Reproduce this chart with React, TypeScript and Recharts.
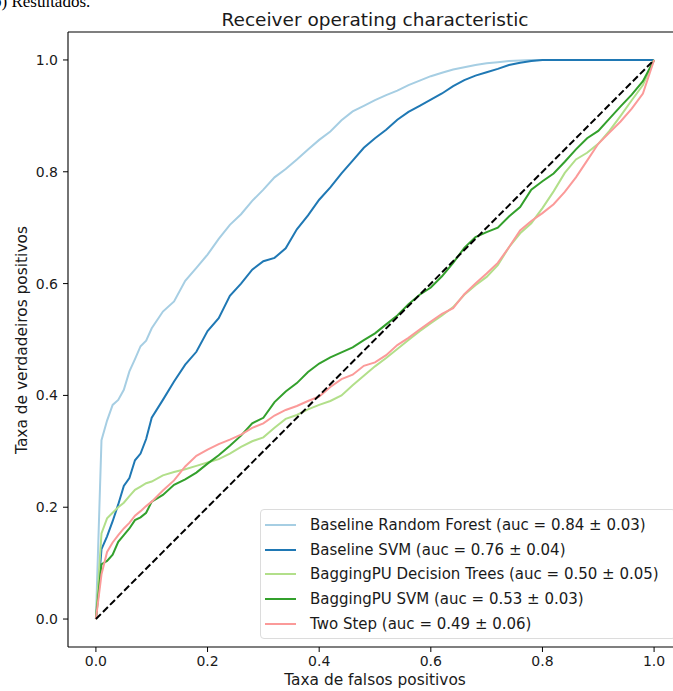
import { LineChart, Line, XAxis, YAxis, ReferenceLine, Legend } from 'recharts';

// false positive rate grid shared by all curves
const fpr = [
  0, 0.01, 0.02, 0.03, 0.04, 0.05, 0.06, 0.07, 0.08, 0.09, 0.1,
  0.12, 0.14, 0.16, 0.18, 0.2, 0.22, 0.24, 0.26, 0.28, 0.3,
  0.32, 0.34, 0.36, 0.38, 0.4, 0.42, 0.44, 0.46, 0.48, 0.5,
  0.52, 0.54, 0.56, 0.58, 0.6, 0.62, 0.64, 0.66, 0.68, 0.7,
  0.72, 0.74, 0.76, 0.78, 0.8, 0.82, 0.84, 0.86, 0.88, 0.9,
  0.92, 0.94, 0.96, 0.98, 1.0,
];

const rfTpr = [
  0, 0.32, 0.355, 0.383, 0.392, 0.41, 0.443, 0.465, 0.488, 0.498, 0.52,
  0.55, 0.568, 0.605, 0.628, 0.652, 0.68, 0.705, 0.724, 0.748, 0.768,
  0.79, 0.805, 0.822, 0.84, 0.857, 0.872, 0.892, 0.908, 0.918, 0.928,
  0.937, 0.945, 0.955, 0.963, 0.971, 0.977, 0.983, 0.987, 0.991, 0.994,
  0.996, 0.998, 0.999, 1, 1, 1, 1, 1, 1, 1,
  1, 1, 1, 1, 1,
];

const svmTpr = [
  0, 0.125, 0.148, 0.175, 0.205, 0.238, 0.252, 0.284, 0.296, 0.322, 0.36,
  0.392, 0.425, 0.455, 0.478, 0.515, 0.538, 0.578, 0.6, 0.625, 0.64,
  0.646, 0.663, 0.697, 0.722, 0.75, 0.772, 0.797, 0.82, 0.843, 0.86,
  0.875, 0.893, 0.907, 0.918, 0.929, 0.94, 0.953, 0.964, 0.972, 0.978,
  0.984, 0.991, 0.995, 0.998, 1, 1, 1, 1, 1, 1,
  1, 1, 1, 1, 1,
];

const bagTreesTpr = [
  0, 0.153, 0.18, 0.19, 0.2, 0.208, 0.22, 0.231, 0.237, 0.243, 0.246,
  0.257, 0.263, 0.268, 0.274, 0.28, 0.286, 0.296, 0.308, 0.318, 0.325,
  0.342, 0.358, 0.365, 0.375, 0.383, 0.39, 0.4, 0.418, 0.435, 0.452,
  0.467, 0.483, 0.499, 0.515, 0.529, 0.543, 0.558, 0.58, 0.597, 0.612,
  0.633, 0.665, 0.69, 0.708, 0.735, 0.765, 0.798, 0.822, 0.834, 0.85,
  0.873, 0.9, 0.928, 0.955, 1,
];

const bagSvmTpr = [
  0, 0.098, 0.104, 0.115, 0.138, 0.15, 0.162, 0.177, 0.182, 0.19, 0.21,
  0.222, 0.24, 0.25, 0.262, 0.278, 0.293, 0.31, 0.328, 0.35, 0.36,
  0.388, 0.407, 0.422, 0.442, 0.457, 0.468, 0.477, 0.486, 0.499, 0.511,
  0.527, 0.543, 0.563, 0.58, 0.593, 0.613, 0.637, 0.664, 0.683, 0.692,
  0.7, 0.72, 0.737, 0.768, 0.783, 0.797, 0.818, 0.84, 0.86, 0.873,
  0.895, 0.917, 0.938, 0.962, 1,
];

const twoStepTpr = [
  0, 0.08, 0.12, 0.137, 0.15, 0.162, 0.172, 0.185, 0.193, 0.202, 0.21,
  0.23, 0.248, 0.273, 0.292, 0.303, 0.313, 0.321, 0.33, 0.342, 0.35,
  0.364, 0.374, 0.381, 0.39, 0.398, 0.415, 0.429, 0.437, 0.453, 0.459,
  0.472, 0.49, 0.503, 0.518, 0.532, 0.546, 0.556, 0.581, 0.6, 0.618,
  0.637, 0.665, 0.695, 0.712, 0.726, 0.742, 0.764, 0.79, 0.82, 0.85,
  0.87, 0.89, 0.913, 0.94, 1,
];

// chance line
const chanceFpr = [0, 1];
const chanceTpr = [0, 1];

const axisTicks = [0, 0.2, 0.4, 0.6, 0.8, 1.0];

const series = [
  { key: 'rf', name: 'Baseline Random Forest (auc = 0.84 \u00b1 0.03)', color: '#a6cee3', tpr: rfTpr },
  { key: 'svm', name: 'Baseline SVM (auc = 0.76 \u00b1 0.04)', color: '#1f78b4', tpr: svmTpr },
  { key: 'bagTrees', name: 'BaggingPU Decision Trees (auc = 0.50 \u00b1 0.05)', color: '#b2df8a', tpr: bagTreesTpr },
  { key: 'bagSvm', name: 'BaggingPU SVM (auc = 0.53 \u00b1 0.03)', color: '#33a02c', tpr: bagSvmTpr },
  { key: 'twoStep', name: 'Two Step (auc = 0.49 \u00b1 0.06)', color: '#fb9a99', tpr: twoStepTpr },
];

const rows = fpr.map((x, i) => {
  const row: Record<string, number> = { x };
  series.forEach((s) => {
    row[s.key] = s.tpr[i];
  });
  return row;
});

const chanceRows = chanceFpr.map((x, i) => ({ x, chance: chanceTpr[i] }));

const FONT = '"DejaVu Sans", sans-serif';
const tickStyle = { fontSize: 14, fill: '#1a1a1a', fontFamily: FONT };

function LegendBox() {
  return (
    <div
      style={{
        boxSizing: 'border-box',
        width: 416,
        height: 130,
        border: '1px solid #dcdcdc',
        borderRadius: 4,
        background: 'rgba(255,255,255,0.8)',
        paddingTop: 2.5,
        fontFamily: FONT,
        fontSize: 15,
        color: '#1a1a1a',
      }}
    >
      {series.map((s) => (
        <div
          key={s.key}
          style={{ height: 24.75, display: 'flex', alignItems: 'center', whiteSpace: 'nowrap' }}
        >
          <div style={{ width: 31, height: 2, marginLeft: 4, marginRight: 14, background: s.color }} />
          <span>{s.name}</span>
        </div>
      ))}
    </div>
  );
}

export default function App() {
  return (
    <div
      style={{
        position: 'absolute',
        left: 0,
        top: 0,
        width: 673,
        height: 691,
        overflow: 'hidden',
        background: '#fff',
      }}
    >
      <LineChart
        width={700}
        height={691}
        data={rows}
        margin={{ top: 32, right: 18, bottom: 0, left: 0 }}
      >
        <XAxis
          dataKey="x"
          type="number"
          domain={[-0.05, 1.05]}
          ticks={axisTicks}
          tickFormatter={(v: number) => v.toFixed(1)}
          allowDataOverflow
          height={44}
          tickSize={5}
          tickMargin={4}
          tick={tickStyle}
          stroke="#000"
          axisLine={{ stroke: '#000', strokeWidth: 1.1 }}
          tickLine={{ stroke: '#000', strokeWidth: 1 }}
        />
        <YAxis
          type="number"
          domain={[-0.05, 1.05]}
          ticks={axisTicks}
          tickFormatter={(v: number) => v.toFixed(1)}
          allowDataOverflow
          width={68}
          tickSize={5}
          tickMargin={5}
          tick={tickStyle}
          stroke="#000"
          axisLine={{ stroke: '#000', strokeWidth: 1.1 }}
          tickLine={{ stroke: '#000', strokeWidth: 1 }}
        />
        {/* top and right frame */}
        <ReferenceLine y={1.05} stroke="#000" strokeWidth={1.1} ifOverflow="visible" />
        <ReferenceLine x={1.05} stroke="#000" strokeWidth={1.1} ifOverflow="visible" />
        {series.map((s) => (
          <Line
            key={s.key}
            dataKey={s.key}
            name={s.name}
            type="linear"
            stroke={s.color}
            strokeWidth={2}
            dot={false}
            activeDot={false}
            isAnimationActive={false}
          />
        ))}
        <Line
          data={chanceRows}
          dataKey="chance"
          type="linear"
          stroke="#000"
          strokeWidth={2}
          strokeDasharray="7 3"
          dot={false}
          activeDot={false}
          legendType="none"
          isAnimationActive={false}
        />
        <Legend
          layout="vertical"
          align="center"
          verticalAlign="middle"
          wrapperStyle={{ left: 260, top: 509, width: 416, height: 130 }}
          content={() => <LegendBox />}
        />
      </LineChart>
      <svg
        width={673}
        height={691}
        style={{ position: 'absolute', left: 0, top: 0, pointerEvents: 'none' }}
      >
        <text x={-7} y={7} fontFamily='"Liberation Serif", serif' fontSize={17} fill="#000">
          b) Resultados.
        </text>
        <text x={375} y={26} textAnchor="middle" fontFamily={FONT} fontSize={18.5} fill="#1a1a1a">
          Receiver operating characteristic
        </text>
        <text x={375} y={685} textAnchor="middle" fontFamily={FONT} fontSize={15.4} fill="#1a1a1a">
          Taxa de falsos positivos
        </text>
        <text
          transform="translate(27,340) rotate(-90)"
          textAnchor="middle"
          fontFamily={FONT}
          fontSize={15.4}
          fill="#1a1a1a"
        >
          Taxa de verdadeiros positivos
        </text>
      </svg>
    </div>
  );
}
